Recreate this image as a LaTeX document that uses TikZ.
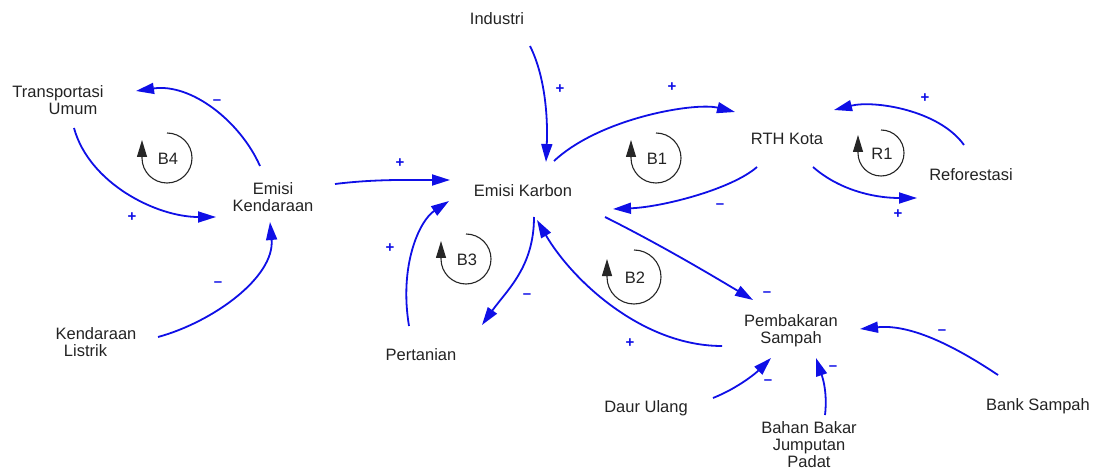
\documentclass[tikz,border=0pt]{standalone}
\usepackage{fontspec}
\setmainfont{Liberation Sans}
\usetikzlibrary{arrows.meta}
\definecolor{linkblue}{RGB}{15,15,230}
\definecolor{textgray}{RGB}{35,35,35}
\tikzset{
  var/.style={font=\fontsize{16.5}{17}\selectfont, text=textgray, align=center, inner sep=0pt},
  link/.style={draw=linkblue, line width=1.8pt, -{Triangle[length=18pt,width=11pt]}},
  sign/.style={font=\fontsize{15}{15}\selectfont\bfseries, text=linkblue, inner sep=0pt},
  looplabel/.style={font=\fontsize{16.5}{17}\selectfont, text=textgray, inner sep=0pt},
  loopmark/.style={draw=black!85, line width=1.1pt, -{Triangle[length=17pt,width=10pt]}}
}
\begin{document}
\begin{tikzpicture}[x=1pt,y=-1pt]
\useasboundingbox (0,0) rectangle (1094,470);

% variables
\node[var] (ind) at (497,19)  {Industri};
\node[var] (tu)  at (58,100)  {Transportasi\\\hspace*{30pt}Umum};
\node[var] (ek)  at (273,197) {Emisi\\Kendaraan};
\node[var] (ekb) at (523,191) {Emisi Karbon};
\node[var] (rth) at (787,139) {RTH Kota};
\node[var] (ref) at (971,175) {Reforestasi};
\node[var] (kl)  at (96,342)  {Kendaraan\\Listrik\hspace*{21pt}};
\node[var] (per) at (421,355) {Pertanian};
\node[var] (ps)  at (791,331) {Pembakaran\\Sampah};
\node[var] (du)  at (646,408) {Daur Ulang};
\node[var] (bb)  at (809,445) {Bahan Bakar\\Jumputan\\Padat};
\node[var] (bs)  at (1038,406) {Bank Sampah};

% causal links
\draw[link] ([shift={(-13,-31)}]ek.center) .. controls +(-20,-45) and +(55,-8) .. ([shift={(78,-9)}]tu.center);
\draw[link] ([shift={(16,28)}]tu.center) .. controls +(15,55) and +(-60,0) .. ([shift={(-57,20)}]ek.center);
\draw[link] ([shift={(62,-5)}]kl.center) .. controls +(55,-15) and +(5,55) .. ([shift={(-3,25)}]ek.center);
\draw[link] ([shift={(62,-13)}]ek.center) .. controls +(40,-5) and +(-40,0) .. ([shift={(-73,-11)}]ekb.center);
\draw[link] ([shift={(33,27)}]ind.center) .. controls +(15,30) and +(2,-45) .. ([shift={(23,-29)}]ekb.center);
\draw[link] ([shift={(31,-30)}]ekb.center) .. controls +(46,-43) and +(-40,-10) .. ([shift={(-52,-27)}]rth.center);
\draw[link] ([shift={(-30,28)}]rth.center) .. controls +(-25,22) and +(50,-2) .. ([shift={(90,18)}]ekb.center);
\draw[link] ([shift={(26,28)}]rth.center) .. controls +(25,22) and +(-45,0) .. ([shift={(-54,23)}]ref.center);
\draw[link] ([shift={(-7,-30)}]ref.center) .. controls +(-25,-35) and +(40,-10) .. ([shift={(47,-29)}]rth.center);
\draw[link] ([shift={(11,26)}]ekb.center) .. controls +(0,50) and +(25,-35) .. ([shift={(61,-30)}]per.center);
\draw[link] ([shift={(-12,-29)}]per.center) .. controls +(-10,-60) and +(-30,20) .. ([shift={(-74,10)}]ekb.center);
\draw[link] ([shift={(-69,15)}]ps.center) .. controls +(-80,0) and +(35,60) .. ([shift={(14,29)}]ekb.center);
\draw[link] ([shift={(82,26)}]ekb.center) .. controls +(50,25) and +(-50,-30) .. ([shift={(-38,-31)}]ps.center);
\draw[link] ([shift={(67,-10)}]du.center) .. controls +(25,-10) and +(-15,15) .. ([shift={(-20,27)}]ps.center);
\draw[link] ([shift={(16,-30)}]bb.center) .. controls +(3,-25) and +(5,15) .. ([shift={(25,27)}]ps.center);
\draw[link] ([shift={(-40,-31)}]bs.center) .. controls +(-45,-30) and +(50,-5) .. ([shift={(69,-2)}]ps.center);

% link polarities
\node[sign] (s1)  at (217,102) {\textendash};
\node[sign] (s2)  at (132,217) {+};
\node[sign] (s3)  at (218,284) {\textendash};
\node[sign] (s4)  at (400,163) {+};
\node[sign] (s5)  at (560,89)  {+};
\node[sign] (s6)  at (672,87)  {+};
\node[sign] (s7)  at (720,206) {\textendash};
\node[sign] (s8)  at (898,214) {+};
\node[sign] (s9)  at (925,98)  {+};
\node[sign] (s10) at (527,296) {\textendash};
\node[sign] (s11) at (390,248) {+};
\node[sign] (s12) at (630,343) {+};
\node[sign] (s13) at (767,294) {\textendash};
\node[sign] (s14) at (768,382) {\textendash};
\node[sign] (s15) at (833,368) {\textendash};
\node[sign] (s16) at (942,332) {\textendash};

% loop identifiers
\foreach \name/\cx/\cy/\r in {B4/167/158/25, B1/656/158/25, R1/881/153/23, B3/466/259/25, B2/634/277/27}{
  \node[looplabel] (\name) at (\cx+1,\cy+1) {\name};
  \draw[loopmark] (\cx,\cy-\r) arc[start angle=270, end angle=540, radius=\r] -- ++(0,-18);
}
\end{tikzpicture}
\end{document}
